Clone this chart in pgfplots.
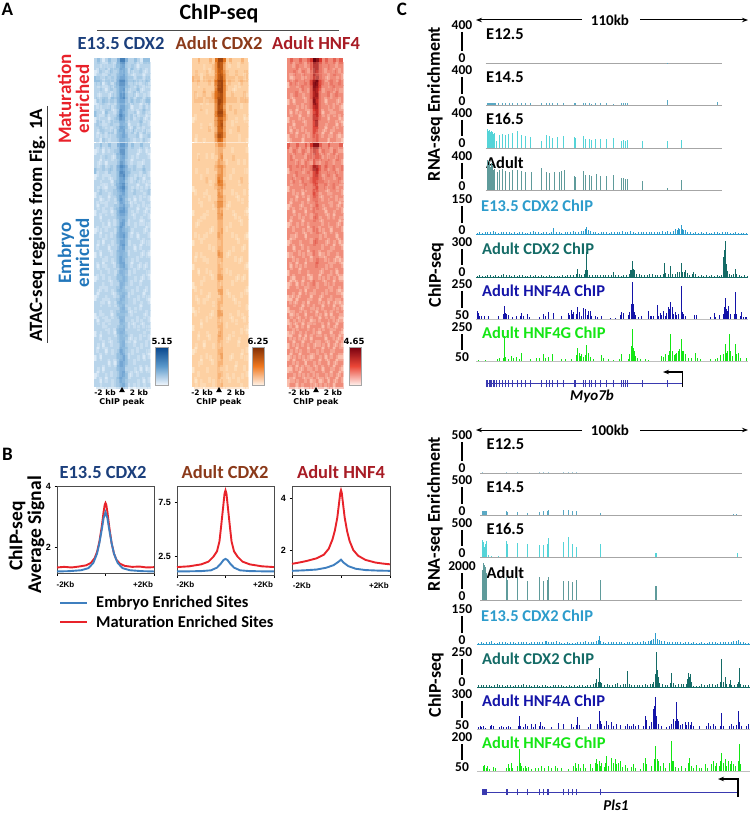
\documentclass[border=0pt]{standalone}
\usepackage{fontspec}
\usepackage{pgfplots}
\usepackage{pgfplotstable}
\pgfplotsset{compat=1.18}
\usetikzlibrary{arrows.meta}
\setmainfont{Carlito}
\newfontfamily\djv{DejaVu Sans}
\newfontfamily\lib{Liberation Sans}
\newcommand{\fs}[1]{\fontsize{#1}{#1}\selectfont\bfseries}
\definecolor{cBlue}{RGB}{27,63,124}
\definecolor{cBrown}{RGB}{139,58,26}
\definecolor{cDRed}{RGB}{168,28,37}
\definecolor{cMat}{RGB}{232,33,42}
\definecolor{cEmb}{RGB}{34,119,187}
\definecolor{lnBlue}{RGB}{63,127,191}
\definecolor{lnRed}{RGB}{232,35,42}
\definecolor{tE}{RGB}{45,156,204}
\definecolor{tC}{RGB}{20,107,102}
\definecolor{tA}{RGB}{20,20,168}
\definecolor{tG}{RGB}{20,230,20}
\definecolor{rnaA}{RGB}{90,169,196}
\definecolor{rnaB}{RGB}{85,212,216}
\definecolor{rnaC}{RGB}{95,155,155}
\definecolor{gn}{RGB}{58,58,176}
\pgfplotsset{
 colormap={hblue}{rgb255(0)=(247,251,255) rgb255(2)=(218,233,246) rgb255(3)=(184,212,234) rgb255(4)=(150,192,224) rgb255(5)=(132,178,218) rgb255(6)=(100,155,205) rgb255(9)=(8,70,140)},
 colormap={horange}{rgb255(0)=(255,245,235) rgb255(2)=(254,228,196) rgb255(3)=(253,208,162) rgb255(4)=(248,180,120) rgb255(6)=(225,115,30) rgb255(9)=(127,45,4)},
 colormap={hred}{rgb255(0)=(255,245,240) rgb255(3)=(250,190,172) rgb255(4)=(240,140,122) rgb255(6)=(218,55,45) rgb255(9)=(103,0,13)},
 trk/.style={hide axis,scale only axis,width=358pt,xmin=0,xmax=1074,ymin=0,ymax=100,clip=false,anchor=south west},
 prof/.style={scale only axis,width=97pt,height=88pt,anchor=north west,xmin=-2,xmax=2,xtick={-2,0,2},xticklabels={},
   tick align=outside,tick pos=left,major tick length=2.5pt,axis line style={black!70,line width=.5pt},
   tick style={black,line width=.5pt},ticklabel style={font=\lib\fontsize{9}{9}\selectfont\bfseries},clip=false}
}
\newcommand{\heat}[7]{%
\begin{axis}[at={(#1pt,-#2pt)},anchor=north west,scale only axis,width=#3pt,height=#4pt,
  xmin=-0.5,xmax=18.5,ymin=-0.5,ymax=#7,y dir=reverse,ticks=none,axis line style={black!45,line width=.6pt},
  colormap name=#5,point meta min=0,point meta max=9,axis on top]
\pgfplotsinvokeforeach{0,...,18}{
 \addplot[scatter,only marks,mark=square*,mark size=1pt,
   mark options={xscale=1.55,yscale=3.2,line width=0pt},
   scatter/use mapped color={draw=mapped color,fill=mapped color},point meta=explicit]
   table[x expr=##1,y expr=\coordindex,meta index=##1] {#6};
}
\pgfplotsinvokeforeach{0,...,18}{
 \addplot[scatter,only marks,mark=square*,mark size=1pt,
   mark options={xscale=1.55,yscale=3.2,line width=0pt,fill opacity=.5,draw opacity=0},
   scatter/use mapped color={draw=mapped color,fill=mapped color},point meta=explicit]
   table[x expr={18-##1+0.5},y expr={mod(\coordindex+3,#7+0.5)+0.5},meta index=##1] {#6};
}
\end{axis}}
\newcommand{\trk}[8]{%
\begin{axis}[trk,at={(395pt,-#1pt)},height=#2pt]
\addplot[#8,line width=.7pt,no markers] coordinates {(#6,0) (#7,0)};
\addplot[ycomb,no markers,color=#3,line width=#4] coordinates {#5};
\end{axis}}
\newcommand{\gene}[6]{%
\begin{axis}[trk,at={(395pt,-#1pt)},height=33.3pt]
\addplot[gn,line width=.5pt,no markers] coordinates {(#2,#4) (#3,#4)};
\addplot[ycomb,no markers,color=gn,line width=.7pt] coordinates {#6};
\end{axis}}
\newcommand{\scl}[4]{%
\node[font=\fs{13.5}] at (462pt,-#1pt) {#3};
\node[font=\fs{13.5}] at (462pt,-#2pt) {#4};
\draw[line width=1.1pt] (462pt,{-(#1+7)*1pt}) -- (462pt,{-(#2-7)*1pt});}

\pgfplotstableread[header=false]{
3 4 3 2 3 4 3 3 5 7 7 5 3 3 4 3 2 4 4
3 3 2 3 4 3 3 4 4 6 6 4 3 4 3 2 3 3 3
2 3 3 3 2 4 3 3 4 5 6 4 3 2 3 3 3 2 3
4 4 3 4 4 3 4 3 5 6 6 5 4 4 3 4 4 3 4
3 2 3 2 3 3 2 4 4 5 5 4 3 3 2 3 3 3 2
3 3 4 3 2 3 3 3 4 5 6 3 2 3 3 4 2 3 3
3 2 3 3 3 2 4 3 4 6 7 4 3 3 2 3 3 2 3
2 3 3 4 3 3 3 2 4 5 5 3 3 4 3 3 2 3 4
3 3 2 3 3 4 2 3 4 6 6 4 3 2 3 3 3 4 3
4 3 3 2 4 3 3 3 5 6 5 4 3 3 4 2 3 3 2
2 3 4 3 3 2 3 4 4 5 5 3 3 3 3 3 4 2 3
3 3 3 3 2 3 3 3 3 5 4 4 2 3 3 2 3 3 3
3 2 3 4 3 3 4 2 4 4 5 3 3 4 2 3 3 4 2
3 3 2 3 3 2 3 3 4 5 5 4 3 3 3 3 2 3 3
}\tBlueA
\pgfplotstableread[header=false]{
3 3 4 3 3 4 3 3 5 6 6 5 3 4 3 3 4 3 3
2 3 3 2 3 3 3 4 5 7 7 4 3 3 3 2 3 3 2
3 3 2 3 4 3 2 3 4 6 6 4 3 2 3 3 3 3 3
3 2 3 3 2 3 3 3 5 7 6 5 3 3 3 2 2 3 3
4 3 3 3 3 4 3 3 4 6 5 4 4 3 3 3 3 4 3
2 3 3 2 3 2 3 3 4 5 6 4 3 3 2 3 3 2 3
3 3 2 3 3 3 2 4 4 5 5 3 3 3 3 2 3 3 2
3 2 3 3 2 3 3 3 5 6 6 4 3 2 3 3 2 3 3
2 3 3 3 3 2 3 3 4 5 5 4 3 3 3 3 3 2 3
3 3 2 2 3 3 3 2 4 6 5 3 2 3 2 3 3 3 3
3 2 3 3 3 3 3 4 4 5 6 4 3 3 3 2 3 3 2
2 3 3 3 2 3 2 3 5 6 6 5 3 2 3 3 3 2 3
3 3 2 3 3 3 3 3 4 5 5 4 3 3 3 3 2 3 3
3 3 3 2 3 2 3 3 4 6 5 3 3 3 2 3 3 3 2
2 3 2 3 3 3 3 2 4 5 5 4 3 2 3 3 3 2 3
3 3 3 3 2 3 3 3 4 5 6 4 3 3 3 2 3 3 3
3 2 3 2 3 3 2 3 4 6 6 4 2 3 3 3 2 3 2
3 3 3 3 3 2 3 3 5 5 5 3 3 3 2 3 3 3 3
2 3 2 3 3 3 3 3 4 5 4 4 3 3 3 3 2 3 2
3 3 3 2 3 3 2 3 4 5 5 3 3 2 3 3 3 3 3
3 2 3 3 2 3 3 3 3 4 5 4 3 3 3 2 3 2 3
3 3 2 3 3 3 3 2 4 5 4 3 2 3 3 3 3 3 2
2 3 3 3 3 2 3 3 4 4 5 4 3 3 2 3 2 3 3
3 3 3 2 3 3 3 3 3 5 4 3 3 3 3 3 3 3 3
3 2 3 3 3 3 2 3 4 4 4 4 3 2 3 3 3 2 3
2 3 3 3 2 3 3 3 3 5 5 3 3 3 3 2 3 3 2
3 3 2 3 3 2 3 2 4 4 4 3 3 3 3 3 2 3 3
3 3 3 3 3 3 3 3 3 5 5 4 2 3 2 3 3 3 3
2 3 3 2 3 3 2 3 4 4 4 3 3 3 3 3 3 2 3
3 2 3 3 3 2 3 3 3 5 4 3 3 2 3 3 2 3 3
3 3 3 3 2 3 3 3 4 4 5 3 3 3 3 2 3 3 2
2 3 2 3 3 3 3 2 4 5 4 4 3 3 3 3 3 2 3
3 3 3 3 3 2 3 3 4 5 5 3 2 3 2 3 3 3 3
3 2 3 2 3 3 3 3 3 5 5 4 3 3 3 3 2 3 3
3 3 3 3 2 3 2 3 4 6 5 3 3 2 3 3 3 3 2
2 3 2 3 3 3 3 3 4 5 6 4 3 3 3 2 3 2 3
3 3 3 3 3 2 3 2 5 6 5 4 3 3 3 3 3 3 3
3 2 3 2 3 3 3 3 4 5 5 3 3 3 2 3 2 3 2
2 3 3 3 2 3 3 3 4 5 4 4 2 3 3 3 3 3 3
3 3 2 3 3 3 2 3 3 4 4 3 3 3 3 2 3 2 3
}\tBlueB
\pgfplotstableread[header=false]{
3 3 4 3 3 3 4 3 6 8 8 6 3 4 3 3 3 4 3
3 3 3 3 2 3 3 4 6 8 8 5 3 3 3 3 3 3 3
3 4 3 3 3 4 3 3 6 8 7 6 4 3 3 4 3 3 4
4 4 4 3 4 4 4 4 6 8 8 6 4 4 4 3 4 4 4
3 3 2 3 3 3 3 3 5 7 8 5 3 3 3 3 2 3 3
3 3 3 3 4 3 3 3 6 8 8 5 3 3 2 3 3 3 3
3 2 3 3 3 3 3 4 6 7 7 5 3 3 3 3 3 3 2
3 3 3 3 3 2 3 3 5 8 7 5 3 3 3 3 3 3 3
3 3 3 4 3 3 3 3 5 7 7 4 3 4 3 3 3 3 3
3 3 3 3 3 3 3 3 6 8 8 5 3 3 3 3 3 3 3
2 3 3 3 3 3 3 3 4 6 6 4 3 3 3 2 3 3 2
3 3 3 2 3 3 2 3 4 6 7 4 3 3 3 3 3 3 3
3 3 3 3 3 3 3 3 4 6 6 4 3 2 3 3 3 3 3
3 2 3 3 3 3 3 3 5 7 6 4 3 3 3 3 2 3 3
}\tOrA
\pgfplotstableread[header=false]{
3 3 3 3 3 3 3 3 4 5 5 4 3 3 3 3 3 3 3
3 3 3 3 3 3 3 3 4 5 5 3 3 3 3 3 3 3 3
3 3 4 3 3 3 3 3 3 5 6 3 3 3 4 3 3 3 3
3 3 3 3 3 3 3 3 4 5 5 4 3 3 3 3 3 3 3
3 2 3 3 3 2 3 3 3 4 5 3 3 3 2 3 3 3 2
3 3 3 2 3 3 3 3 4 5 5 3 3 2 3 3 3 3 3
3 3 3 3 3 3 2 3 4 6 6 4 3 3 3 3 2 3 3
2 3 3 3 3 3 3 3 3 4 5 3 3 3 3 3 3 3 3
3 3 3 3 2 3 3 3 3 5 5 3 3 3 3 2 3 3 3
3 3 2 3 3 3 3 3 3 4 4 3 3 3 3 3 3 2 3
3 3 3 3 3 3 3 2 3 4 4 3 2 3 3 3 3 3 3
2 3 3 3 3 2 3 3 3 4 5 3 3 3 2 3 3 3 2
3 3 3 2 3 3 3 3 3 4 4 3 3 3 3 3 2 3 3
3 2 3 3 3 3 3 3 3 4 4 3 3 2 3 3 3 3 3
3 3 3 3 3 3 2 3 3 4 5 3 3 3 3 3 3 3 3
3 3 2 3 2 3 3 3 3 4 4 3 3 3 3 2 3 3 2
2 3 3 3 3 3 3 3 3 3 4 3 3 3 3 3 3 3 3
3 3 3 3 3 3 3 2 3 4 4 3 3 3 2 3 3 2 3
3 2 3 2 3 3 3 3 3 5 5 3 2 3 3 3 3 3 3
3 3 3 3 3 2 3 3 3 3 4 3 3 3 3 3 2 3 3
2 3 3 3 3 3 3 3 3 4 4 3 3 3 3 3 3 3 2
3 3 2 3 3 3 2 3 3 4 3 3 3 2 3 3 3 3 3
3 3 3 3 2 3 3 3 3 4 4 3 3 3 3 2 3 2 3
2 3 3 3 3 3 3 3 3 3 4 3 3 3 3 3 3 3 3
3 3 3 2 3 3 3 3 3 5 5 3 2 3 3 3 3 3 2
3 2 3 3 3 2 3 3 3 3 4 3 3 3 2 3 3 3 3
3 3 3 3 3 3 3 2 3 4 4 3 3 3 3 3 2 3 3
2 3 2 3 3 3 3 3 3 4 3 3 3 3 3 3 3 3 3
3 3 3 3 3 3 2 3 3 4 4 3 3 2 3 3 3 2 3
3 3 3 2 3 3 3 3 3 3 4 3 3 3 3 2 3 3 3
2 3 3 3 3 3 3 3 3 4 4 3 3 3 3 3 3 3 2
3 3 2 3 3 2 3 3 3 5 4 3 3 3 2 3 3 3 3
3 3 3 3 3 3 3 3 3 4 4 3 2 3 3 3 2 3 3
3 2 3 3 2 3 3 2 3 3 4 3 3 3 3 3 3 3 3
2 3 3 3 3 3 3 3 3 4 4 3 3 3 3 3 3 2 3
3 3 3 2 3 3 2 3 3 3 4 3 3 2 3 3 3 3 2
3 3 2 3 3 3 3 3 3 4 4 3 3 3 3 2 3 3 3
2 3 3 3 3 2 3 3 3 3 3 3 3 3 3 3 3 3 3
3 3 3 3 3 3 3 3 3 4 3 3 2 3 2 3 3 2 3
3 2 3 2 3 3 3 2 3 3 4 3 3 3 3 3 3 3 3
}\tOrB
\pgfplotstableread[header=false]{
4 5 4 4 5 4 4 5 6 9 8 6 4 5 4 4 5 4 5
4 4 4 5 4 4 4 4 6 8 8 5 4 4 5 4 4 4 4
4 4 5 4 4 5 4 4 5 8 7 5 4 4 4 4 5 4 4
4 3 4 4 4 4 3 4 5 7 8 5 4 3 4 4 4 3 4
3 4 4 3 4 4 4 4 5 8 7 5 4 4 3 4 4 4 4
4 4 4 4 3 4 4 3 5 7 6 4 3 4 4 4 3 4 3
4 3 4 4 4 3 4 4 5 7 7 4 4 4 4 3 4 4 4
3 4 3 4 4 4 4 4 4 8 6 4 4 3 4 4 4 3 4
4 4 4 3 4 4 3 4 4 6 6 4 4 4 3 4 4 4 3
4 3 4 4 3 4 4 3 4 5 6 4 3 4 4 4 3 4 4
3 4 4 4 4 3 4 4 4 5 5 4 4 4 3 4 4 4 3
4 4 3 4 4 4 4 4 4 5 5 4 4 3 4 4 4 3 4
4 3 4 3 4 4 3 4 4 5 4 4 3 4 4 3 4 4 4
3 4 4 4 4 3 4 4 4 4 5 4 4 4 3 4 4 3 3
}\tRedA
\pgfplotstableread[header=false]{
5 4 4 5 4 4 5 4 6 8 8 5 4 4 5 4 4 4 5
4 4 5 4 4 5 4 4 5 7 6 4 5 4 4 4 5 4 4
4 5 4 4 4 4 4 5 5 6 6 5 4 4 5 4 4 5 4
4 4 4 5 4 4 5 4 4 6 5 4 4 5 4 4 4 4 4
3 4 4 4 4 3 4 4 4 5 6 4 4 4 3 4 4 3 4
4 4 3 4 4 4 4 3 4 5 5 4 3 4 4 4 3 4 4
4 3 4 4 3 4 4 4 4 5 4 4 4 4 3 4 4 4 3
3 4 4 4 4 4 3 4 4 4 5 4 4 3 4 4 4 3 4
4 4 4 3 4 3 4 4 4 5 4 3 4 4 4 3 4 4 4
4 3 4 4 4 4 4 3 4 4 4 4 4 4 3 4 4 4 3
3 4 4 4 3 4 4 4 3 4 5 4 3 4 4 4 4 3 4
4 4 3 4 4 4 3 4 4 4 4 4 4 3 4 4 3 4 4
4 3 4 4 4 3 4 4 4 5 4 3 4 4 4 4 4 4 3
3 4 4 3 4 4 4 3 4 4 4 4 4 4 3 4 4 3 4
4 4 4 4 4 3 4 4 3 4 5 4 3 4 4 3 4 4 4
4 3 3 4 4 4 3 4 4 4 4 3 4 4 4 4 4 3 4
3 4 4 4 3 4 4 4 4 5 4 4 4 3 4 4 3 4 3
4 4 3 4 4 4 4 3 4 4 4 4 4 4 4 3 4 4 4
3 3 4 4 4 3 4 4 3 4 4 3 3 4 4 4 4 3 4
4 4 4 3 4 4 3 4 4 4 5 4 4 4 3 4 3 4 3
4 3 4 4 3 4 4 4 4 4 4 4 4 3 4 4 4 4 4
3 4 4 4 4 4 4 3 4 4 4 3 4 4 4 3 4 3 4
4 3 3 4 4 3 4 4 3 4 4 4 3 4 4 4 3 4 3
3 4 4 3 4 4 4 3 4 4 3 4 4 4 3 4 4 4 4
4 4 4 4 3 4 3 4 4 3 4 4 4 3 4 4 4 3 3
3 3 4 3 4 4 4 4 3 4 4 3 4 4 4 3 4 4 4
4 4 3 4 4 3 4 3 4 4 4 4 3 4 3 4 3 4 3
3 4 4 4 3 4 4 4 3 4 3 4 4 4 4 4 4 3 4
4 3 4 3 4 4 3 4 4 4 4 3 4 3 4 3 4 4 3
3 4 3 4 4 3 4 4 3 3 4 4 4 4 3 4 4 3 4
4 4 4 3 4 4 4 3 4 4 4 4 3 4 4 4 3 4 4
3 3 4 4 3 4 3 4 4 4 3 3 4 4 4 3 4 4 3
4 4 3 4 4 3 4 4 3 4 4 4 4 3 4 4 4 3 4
3 4 4 3 4 4 4 3 4 3 4 4 3 4 3 4 3 4 3
4 3 4 4 3 4 4 4 4 4 3 4 4 4 4 3 4 4 4
3 4 3 4 4 3 4 3 3 4 4 3 4 3 4 4 4 3 3
4 4 4 3 4 4 3 4 4 3 4 4 4 4 3 4 3 4 4
3 3 4 4 3 4 4 4 3 4 4 4 3 4 4 3 4 4 3
4 4 3 4 4 3 4 3 4 4 3 4 4 3 4 4 4 3 4
3 4 4 3 4 4 4 4 3 3 4 3 4 4 3 4 3 4 4
}\tRedB

\begin{document}
\begin{tikzpicture}[x=1pt,y=1pt]
\path[use as bounding box] (0pt,0pt) rectangle (753pt,-813pt);
% panel letters
\node[font=\fs{19}] at (7.5pt,-9pt) {A};
\node[font=\fs{19}] at (7.5pt,-454pt) {B};
\node[font=\fs{19}] at (402pt,-9pt) {C};
% panel A heads
\node[font=\fs{22}] at (219pt,-14pt) {ChIP-seq};
\draw[black!70,line width=.8pt] (97pt,-30pt) -- (339pt,-30pt);
\node[font=\fs{18.5},text=cBlue] at (121pt,-43pt) {E13.5 CDX2};
\node[font=\fs{18.5},text=cBrown] at (219pt,-43pt) {Adult CDX2};
\node[font=\fs{18.5},text=cDRed] at (316pt,-43pt) {Adult HNF4};
\node[font=\fs{19},text=cMat,rotate=90,align=center,inner sep=0pt] at (73.5pt,-99pt) {Maturation\\[-1pt]enriched};
\node[font=\fs{19},text=cEmb,rotate=90,align=center,inner sep=0pt] at (73.5pt,-253pt) {Embryo\\[-1pt]enriched};
\node[font=\fs{18.8},rotate=90,inner sep=0pt] at (37pt,-225pt) {ATAC-seq regions from Fig. 1A};
\draw[black!75,line width=.8pt] (47pt,-106pt) -- (47pt,-343pt);
% heatmaps
\heat{94.5}{59}{54.5}{82}{hblue}{\tBlueA}{13.5}
\heat{94.5}{144}{54.5}{242}{hblue}{\tBlueB}{39.5}
\heat{192.5}{59}{54.5}{82}{horange}{\tOrA}{13.5}
\heat{192.5}{144}{54.5}{242}{horange}{\tOrB}{39.5}
\heat{288}{59}{54.5}{82}{hred}{\tRedA}{13.5}
\heat{288}{144}{54.5}{242}{hred}{\tRedB}{39.5}
% colour bars
\shade[top color={rgb,255:red,8;green,70;blue,140},bottom color={rgb,255:red,240;green,246;blue,252},middle color={rgb,255:red,90;green,152;blue,203}] (155pt,-347pt) rectangle (168pt,-385pt);
\draw[black!35,line width=.5pt] (155pt,-347pt) rectangle (168pt,-385pt);
\shade[top color={rgb,255:red,127;green,45;blue,4},bottom color={rgb,255:red,255;green,242;blue,230},middle color={rgb,255:red,240;green,120;blue,31}] (252pt,-347pt) rectangle (264.5pt,-385pt);
\draw[black!35,line width=.5pt] (252pt,-347pt) rectangle (264.5pt,-385pt);
\shade[top color={rgb,255:red,120;green,0;blue,15},bottom color={rgb,255:red,255;green,240;blue,235},middle color={rgb,255:red,235;green,70;blue,55}] (349pt,-347pt) rectangle (361pt,-385pt);
\draw[black!35,line width=.5pt] (349pt,-347pt) rectangle (361pt,-385pt);
\node[font=\djv\fs{8.5}] at (162pt,-341pt) {5.15};
\node[font=\djv\fs{8.5}] at (258pt,-341pt) {6.25};
\node[font=\djv\fs{8.5}] at (354pt,-341pt) {4.65};
% heatmap x labels
\foreach \cx/\l/\r in {122/105/139,219/202/236,316/299/333}{
 \node[font=\djv\fs{7.5}] at (\l pt,-392.5pt) {-2 kb};
 \node[font=\djv\fs{7.5}] at (\r pt,-392.5pt) {2 kb};
 \node[font=\djv\fs{8}] at (\cx pt,-402pt) {ChIP peak};
 \fill ({(\cx-2.8)*1pt},-392pt) -- ({(\cx+2.8)*1pt},-392pt) -- (\cx pt,-387pt) -- cycle;
}
% panel B
\node[font=\fs{19.5},rotate=90] at (17pt,-536pt) {ChIP-seq};
\node[font=\fs{19.5},rotate=90] at (36pt,-535pt) {Average Signal};
\node[font=\fs{18.5},text=cBlue] at (103pt,-472pt) {E13.5 CDX2};
\node[font=\fs{18.5},text=cBrown] at (225pt,-472pt) {Adult CDX2};
\node[font=\fs{18.5},text=cDRed] at (341pt,-472pt) {Adult HNF4};
\begin{axis}[prof,at={(57pt,-486pt)},height=87pt,ymin=1.17,ymax=4,ytick={2,4},yticklabels={2,4}]
\addplot[lnRed,line width=1.9pt,no markers] coordinates {(-2,1.35)(-1.7,1.37)(-1.4,1.35)(-1.1,1.38)(-0.8,1.42)(-0.6,1.5)(-0.45,1.65)(-0.35,1.85)(-0.25,2.2)(-0.15,2.7)(-0.08,3.15)(-0.03,3.4)(0,3.45)(0.03,3.4)(0.08,3.15)(0.15,2.7)(0.25,2.15)(0.35,1.8)(0.45,1.6)(0.6,1.47)(0.8,1.4)(1.1,1.37)(1.4,1.38)(1.7,1.35)(2,1.36)};
\addplot[lnBlue,line width=1.9pt,no markers] coordinates {(-2,1.22)(-1.5,1.23)(-1,1.26)(-0.7,1.33)(-0.5,1.5)(-0.35,1.8)(-0.25,2.15)(-0.15,2.6)(-0.08,2.95)(0,3.15)(0.08,2.95)(0.15,2.6)(0.25,2.15)(0.35,1.8)(0.5,1.5)(0.7,1.33)(1,1.26)(1.5,1.23)(2,1.22)};
\node[font=\lib\fs{8}] at (axis cs:-1.65,0.78) {-2Kb};
\node[font=\lib\fs{8}] at (axis cs:1.55,0.78) {+2Kb};
\end{axis}
\begin{axis}[prof,at={(177pt,-486pt)},height=89pt,ymin=0.82,ymax=9,ytick={2.5,7.5},yticklabels={2.5,7.5}]
\addplot[lnRed,line width=1.9pt,no markers] coordinates {(-2,1.55)(-1.5,1.62)(-1,1.8)(-0.7,2.05)(-0.5,2.5)(-0.35,3.0)(-0.25,3.9)(-0.18,5.3)(-0.1,7)(-0.04,8.3)(0,8.6)(0.04,8.3)(0.1,7)(0.18,5.3)(0.25,3.9)(0.35,3.0)(0.5,2.5)(0.7,2.05)(1,1.8)(1.5,1.62)(2,1.55)};
\addplot[lnBlue,line width=1.9pt,no markers] coordinates {(-2,1.15)(-1.5,1.16)(-1,1.18)(-0.6,1.25)(-0.35,1.5)(-0.2,1.85)(-0.08,2.2)(0,2.3)(0.08,2.2)(0.2,1.85)(0.35,1.5)(0.6,1.25)(1,1.18)(1.5,1.16)(2,1.15)};
\node[font=\lib\fs{8}] at (axis cs:-1.65,-0.1) {-2Kb};
\node[font=\lib\fs{8}] at (axis cs:1.55,-0.1) {+2Kb};
\end{axis}
\begin{axis}[prof,at={(292pt,-486pt)},height=89pt,width=98pt,ymin=1.04,ymax=4.46,ytick={2,4},yticklabels={2,4}]
\addplot[lnRed,line width=1.9pt,no markers] coordinates {(-2,1.47)(-1.7,1.52)(-1.4,1.58)(-1,1.68)(-0.7,1.82)(-0.5,2.05)(-0.35,2.4)(-0.25,2.75)(-0.15,3.25)(-0.08,3.8)(-0.03,4.2)(0,4.3)(0.03,4.2)(0.08,3.8)(0.15,3.25)(0.25,2.72)(0.35,2.35)(0.5,2.0)(0.7,1.78)(1,1.62)(1.4,1.52)(1.7,1.48)(2,1.45)};
\addplot[lnBlue,line width=1.9pt,no markers] coordinates {(-2,1.2)(-1.5,1.22)(-1,1.25)(-0.6,1.32)(-0.3,1.42)(-0.1,1.55)(0,1.63)(0.1,1.52)(0.3,1.38)(0.6,1.28)(1,1.23)(1.5,1.21)(2,1.2)};
\node[font=\lib\fs{8}] at (axis cs:-1.6,0.65) {-2Kb};
\node[font=\lib\fs{8}] at (axis cs:1.55,0.65) {+2Kb};
\end{axis}
\draw[lnBlue,line width=2pt] (60pt,-603pt) -- (87pt,-603pt);
\draw[lnRed,line width=2pt] (60pt,-622pt) -- (87pt,-622pt);
\node[font=\fs{16.5},anchor=west,inner sep=0pt] at (96pt,-603pt) {Embryo Enriched Sites};
\node[font=\fs{16.5},anchor=west,inner sep=0pt] at (96pt,-622pt) {Maturation Enriched Sites};
% panel C top
\draw[-{Stealth[length=6pt]},line width=1pt] (582pt,-20pt) -- (476pt,-20pt);
\draw[-{Stealth[length=6pt]},line width=1pt] (640pt,-20pt) -- (748pt,-20pt);
\node[font=\fs{15}] at (610pt,-20pt) {110kb};
\node[font=\fs{18},rotate=90] at (435pt,-104pt) {RNA-seq Enrichment};
\node[font=\fs{18},rotate=90] at (436pt,-275pt) {ChIP-seq};
\scl{25}{58}{400}{0}\scl{70}{101}{400}{0}\scl{113}{143}{400}{0}\scl{156}{186}{400}{0}
\scl{199}{230}{150}{0}\scl{242}{272}{300}{0}\scl{284}{315}{250}{50}\scl{327}{357}{250}{50}
\foreach \y/\t in {34/E12.5,77/E14.5,119/E16.5,163/Adult}
  \node[font=\fs{16.5},anchor=west,inner sep=0pt] at (486pt,-\y pt) {\t};
\node[font=\fs{16.5},anchor=west,inner sep=0pt,text=tE] at (481pt,-206pt) {E13.5 CDX2 ChIP};
\node[font=\fs{16.5},anchor=west,inner sep=0pt,text=tC] at (482pt,-249pt) {Adult CDX2 ChIP};
\node[font=\fs{16.5},anchor=west,inner sep=0pt,text=tA] at (482pt,-291pt) {Adult HNF4A ChIP};
\node[font=\fs{16.5},anchor=west,inner sep=0pt,text=tG] at (482pt,-333pt) {Adult HNF4G ChIP};
\trk{63}{33.3}{rnaA}{.5pt}{(816,1)}{272}{980}{black!35}
\trk{105}{33.3}{rnaA}{.6pt}{(276,6)(279,7)(282,6)(285,7)(288,6)(291,6)(294,7)(297,6)(300,6)(310,5)(322,6)(331,5)(342,5)(352,5)(367,6)(380,5)(392,5)(405,5)(438,5)(455,6)(462,6)(472,5)(488,5)(505,5)(537,5)(540,5)(565,6)(572,5)(582,5)(590,4)(600,5)(617,5)(634,5)(656,4)(680,5)(686,5)(692,5)(697,5)(817,15)(968,8)}{272}{980}{black!35}
\trk{148}{33.3}{rnaB}{.7pt}{(278,58)(281,50)(283,55)(286,48)(288,50)(291,45)(293,48)(296,42)(298,45)(303,20)(312,38)(322,42)(330,40)(340,42)(352,45)(367,52)(380,40)(392,36)(405,33)(438,22)(455,38)(462,36)(472,30)(488,32)(505,35)(537,33)(540,30)(565,35)(572,28)(582,28)(590,24)(600,28)(617,26)(634,28)(656,30)(680,22)(686,25)(692,22)(697,24)(742,22)(817,22)(859,24)}{272}{980}{black!35}
\trk{190}{33.3}{rnaC}{.55pt}{(278,90)(281,75)(283,88)(286,70)(288,80)(291,65)(293,75)(296,60)(298,62)(306,55)(312,60)(322,62)(331,58)(342,55)(352,60)(367,60)(380,58)(392,55)(408,55)(438,65)(455,55)(462,50)(478,55)(492,55)(500,58)(507,60)(537,42)(540,40)(565,58)(572,45)(582,45)(590,42)(603,48)(617,42)(634,42)(656,45)(680,35)(686,35)(692,32)(697,33)(742,28)(817,6)(859,30)}{272}{980}{black!35}
\trk{234}{33.3}{tE}{.6pt}{(246,3)(254,5)(262,4)(270,6)(278,7)(286,5)(294,8)(302,5)(310,3)(318,6)(326,5)(334,7)(342,5)(350,3)(358,5)(366,4)(374,6)(382,5)(390,3)(398,4)(406,7)(414,8)(422,6)(430,5)(438,4)(446,6)(454,5)(462,4)(470,7)(476,18)(484,6)(492,5)(500,4)(510,7)(518,6)(526,6)(534,8)(542,5)(550,7)(558,9)(566,10)(571,14)(575,22)(579,12)(586,8)(594,6)(602,5)(610,4)(618,7)(626,5)(634,6)(642,4)(650,6)(658,5)(666,7)(674,6)(682,9)(690,7)(698,5)(706,9)(714,6)(722,4)(730,6)(738,7)(746,5)(754,6)(762,7)(770,5)(778,6)(786,7)(794,5)(802,8)(810,7)(818,8)(826,6)(834,10)(840,15)(846,12)(850,18)(854,14)(858,27)(862,16)(866,12)(870,12)(878,7)(886,5)(894,4)(902,5)(910,4)(918,6)(926,3)(934,5)(942,3)(950,4)(958,6)(966,5)(974,3)(982,5)(990,6)(998,6)(1006,4)(1014,3)(1022,5)(1030,4)(1038,3)(1046,4)(1054,3)}{243}{1060}{tE}
\trk{277}{33.3}{tC}{.6pt}{(246,4)(254,5)(262,4)(270,3)(278,5)(286,6)(294,4)(302,5)(310,4)(318,5)(326,8)(334,6)(342,5)(350,4)(358,5)(366,3)(374,7)(382,6)(390,4)(398,3)(406,5)(414,4)(422,6)(430,3)(438,5)(446,4)(454,3)(462,5)(470,4)(478,3)(486,4)(494,4)(502,5)(510,4)(518,5)(526,6)(534,5)(543,10)(548,24)(552,10)(560,6)(568,8)(572,22)(575,75)(578,20)(584,6)(592,5)(600,7)(608,6)(616,5)(624,6)(632,5)(640,7)(648,6)(655,15)(662,6)(670,5)(678,4)(686,5)(694,6)(702,8)(705,20)(709,22)(712,47)(715,25)(718,22)(724,8)(732,10)(740,7)(748,6)(756,7)(764,8)(772,9)(780,7)(788,6)(796,7)(804,10)(808,42)(812,12)(820,8)(827,33)(832,10)(840,10)(846,15)(852,15)(858,42)(862,16)(868,16)(872,20)(876,12)(884,7)(892,8)(896,15)(902,8)(910,4)(918,5)(926,4)(934,5)(942,4)(950,5)(958,4)(966,5)(974,4)(980,6)(984,15)(986,60)(988,80)(990,108)(992,70)(994,40)(997,18)(1002,8)(1010,6)(1016,8)(1020,25)(1024,8)(1032,5)(1040,4)(1048,5)(1056,4)}{243}{1060}{tC}
\trk{319}{33.3}{tA}{.65pt}{(248,25)(251,18)(254,8)(258,10)(268,8)(280,8)(310,10)(325,15)(328,38)(331,18)(335,15)(340,12)(352,5)(365,10)(376,8)(380,18)(384,10)(398,15)(402,6)(432,5)(445,14)(450,8)(460,20)(474,18)(500,10)(520,18)(524,12)(528,28)(532,15)(535,22)(544,15)(548,35)(552,22)(558,8)(566,32)(570,15)(572,30)(576,12)(580,25)(585,25)(590,8)(600,10)(606,6)(620,8)(645,3)(660,3)(676,12)(680,20)(686,18)(700,12)(704,22)(708,45)(712,112)(715,45)(718,20)(722,12)(730,6)(740,10)(760,25)(765,10)(770,10)(775,8)(787,42)(791,10)(795,18)(800,12)(805,25)(810,10)(815,18)(820,35)(824,30)(827,52)(832,35)(836,15)(840,22)(845,12)(850,15)(858,100)(862,20)(865,15)(872,8)(898,12)(903,12)(945,5)(958,18)(962,6)(972,12)(984,15)(987,35)(990,62)(994,30)(998,25)(1001,40)(1005,15)(1017,15)(1020,82)(1024,15)(1036,10)(1040,20)(1044,6)(1050,5)(1055,5)}{243}{1060}{black!25}
\trk{361}{33.3}{tG}{.85pt}{(250,3)(270,3)(308,6)(312,8)(325,10)(328,75)(331,12)(340,6)(350,15)(354,8)(365,12)(372,6)(378,25)(405,5)(423,10)(432,8)(445,20)(452,10)(460,12)(472,20)(500,5)(512,6)(530,5)(544,18)(548,40)(552,25)(556,15)(560,20)(565,12)(570,18)(575,48)(580,25)(585,12)(595,6)(618,18)(624,8)(640,6)(655,4)(672,6)(680,20)(700,6)(704,20)(708,45)(712,97)(715,40)(718,30)(722,15)(726,10)(735,6)(750,5)(760,4)(800,15)(806,12)(812,22)(820,18)(824,30)(827,80)(831,30)(838,18)(842,20)(845,25)(850,30)(854,35)(858,67)(862,30)(865,30)(872,20)(880,10)(890,8)(900,25)(906,8)(916,6)(945,5)(960,6)(968,10)(975,18)(985,20)(990,50)(994,25)(998,30)(1002,80)(1006,30)(1012,15)(1020,50)(1024,20)(1030,25)(1036,8)(1055,10)}{243}{1060}{black!25}
\gene{387}{272}{860}{11}{}{(274,21)(278,21)(282,21)(286,21)(290,21)(294,21)(298,21)(303,21)(312,21)(322,21)(330,21)(340,21)(352,21)(367,21)(380,21)(392,21)(405,21)(438,21)(455,21)(462,21)(472,21)(488,21)(505,21)(537,21)(540,21)(565,21)(572,21)(582,21)(590,21)(600,21)(617,21)(634,21)(656,21)(680,21)(686,21)(692,21)(697,21)(742,21)(817,21)}
\draw[-{Stealth[length=6pt]},line width=1.6pt] (682.3pt,-387pt) -- (682.3pt,-372pt) -- (663pt,-372pt);
\node[font=\fs{15}\itshape] at (592pt,-396pt) {Myo7b};
% panel C bottom
\draw[-{Stealth[length=6pt]},line width=1pt] (582pt,-430pt) -- (476pt,-430pt);
\draw[-{Stealth[length=6pt]},line width=1pt] (640pt,-430pt) -- (748pt,-430pt);
\node[font=\fs{15}] at (610pt,-430pt) {100kb};
\node[font=\fs{18},rotate=90] at (435pt,-514pt) {RNA-seq Enrichment};
\node[font=\fs{18},rotate=90] at (436pt,-685pt) {ChIP-seq};
\scl{435}{468}{500}{0}\scl{480}{511}{500}{0}\scl{523}{553}{500}{0}\scl{566}{596}{2000}{0}
\scl{609}{640}{150}{0}\scl{652}{682}{250}{0}\scl{694}{725}{300}{50}\scl{737}{767}{200}{50}
\foreach \y/\t in {444/E12.5,487/E14.5,529/E16.5,573/Adult}
  \node[font=\fs{16.5},anchor=west,inner sep=0pt] at (486.5pt,-\y pt) {\t};
\node[font=\fs{16.5},anchor=west,inner sep=0pt,text=tE] at (481pt,-616pt) {E13.5 CDX2 ChIP};
\node[font=\fs{16.5},anchor=west,inner sep=0pt,text=tC] at (482pt,-659pt) {Adult CDX2 ChIP};
\node[font=\fs{16.5},anchor=west,inner sep=0pt,text=tA] at (482pt,-701pt) {Adult HNF4A ChIP};
\node[font=\fs{16.5},anchor=west,inner sep=0pt,text=tG] at (482pt,-743pt) {Adult HNF4G ChIP};
\trk{473}{33.3}{rnaA!60}{.5pt}{(262,2)(333,3)(368,3)(433,3)(445,4)(460,4)(506,4)(520,4)(532,2)(545,2)}{255}{1042}{black!35}
\trk{515}{33.3}{rnaA}{.7pt}{(262,12)(264,12)(266,12)(268,12)(270,12)(272,12)(274,12)(333,12)(337,10)(368,10)(397,6)(433,10)(445,12)(458,12)(460,16)(506,15)(520,15)(532,12)(545,12)(617,6)(1015,3)(1025,3)}{255}{1042}{black!35}
\trk{557}{33.3}{rnaB}{.7pt}{(262,50)(264,45)(266,40)(268,30)(270,35)(272,40)(274,48)(280,5)(290,3)(310,2)(333,48)(337,40)(368,42)(397,40)(433,36)(445,35)(458,40)(460,58)(506,45)(520,60)(532,38)(545,30)(617,40)(782,12)(784,12)(1027,12)}{255}{1042}{black!35}
\trk{600}{33.3}{rnaC}{.6pt}{(262,90)(264,100)(266,110)(268,105)(270,100)(272,95)(274,80)(333,70)(337,60)(368,70)(397,58)(433,70)(445,58)(458,60)(460,68)(506,58)(520,58)(532,55)(545,60)(617,60)(782,42)(784,42)}{255}{1042}{black!35}
\trk{644}{33.3}{tE}{.6pt}{(250,4)(258,5)(266,4)(274,7)(282,5)(290,8)(298,4)(306,3)(314,5)(322,7)(330,5)(338,4)(346,6)(354,5)(362,3)(370,6)(378,5)(386,7)(394,5)(402,4)(410,6)(418,5)(426,5)(434,7)(442,6)(450,8)(455,10)(460,7)(468,5)(476,6)(484,9)(492,7)(500,4)(508,3)(516,5)(524,4)(532,3)(540,4)(548,5)(556,6)(564,7)(572,8)(580,5)(588,6)(596,7)(604,8)(609,12)(613,25)(617,10)(624,5)(632,4)(640,5)(648,7)(656,5)(664,6)(672,7)(680,5)(688,4)(696,5)(704,6)(712,5)(720,4)(728,7)(736,6)(744,8)(752,7)(760,9)(766,10)(770,12)(775,14)(782,32)(786,14)(793,12)(800,10)(808,8)(816,6)(824,5)(832,7)(840,5)(848,6)(856,5)(864,4)(872,5)(880,5)(888,4)(896,6)(904,4)(912,3)(920,5)(928,4)(936,3)(944,5)(952,6)(960,5)(968,4)(976,5)(984,7)(992,6)(1000,5)(1008,6)(1016,8)(1024,8)(1030,12)(1036,7)(1044,5)(1052,4)(1060,3)}{247}{1065}{tE}
\trk{687}{33.3}{tC}{.6pt}{(250,5)(258,7)(266,6)(274,5)(282,7)(290,4)(298,6)(306,8)(314,5)(322,6)(330,4)(338,7)(346,5)(354,4)(362,6)(370,7)(378,5)(386,8)(394,6)(402,5)(410,4)(418,6)(426,5)(434,4)(442,6)(450,5)(458,4)(466,3)(474,6)(482,5)(490,7)(498,5)(506,4)(514,3)(522,5)(530,4)(538,5)(546,4)(554,6)(562,5)(570,4)(578,6)(586,6)(594,10)(600,12)(605,25)(609,15)(613,57)(617,15)(620,12)(628,6)(636,8)(644,7)(652,6)(660,8)(668,12)(676,6)(684,8)(692,10)(698,48)(702,10)(710,7)(718,5)(726,6)(734,7)(742,6)(750,8)(758,6)(766,8)(772,10)(776,15)(780,40)(783,60)(785,105)(787,50)(790,30)(794,12)(802,8)(810,6)(818,7)(826,12)(830,42)(834,12)(842,7)(850,8)(858,10)(866,10)(874,10)(878,25)(880,42)(883,30)(885,40)(888,15)(896,4)(904,3)(912,4)(920,8)(928,6)(936,7)(944,10)(952,8)(960,6)(968,10)(975,15)(980,85)(984,15)(990,30)(994,10)(1002,8)(1005,20)(1010,7)(1018,6)(1026,8)(1030,15)(1033,57)(1037,10)(1044,6)(1052,5)(1060,5)}{247}{1065}{tC}
\trk{729}{33.3}{tA}{.65pt}{(250,6)(255,10)(260,6)(265,8)(272,4)(285,8)(290,12)(296,8)(312,6)(320,8)(326,5)(334,6)(340,8)(345,5)(370,10)(373,38)(377,8)(385,6)(390,15)(396,8)(408,15)(414,5)(420,15)(432,8)(437,22)(441,10)(447,6)(468,5)(490,18)(505,15)(530,15)(536,6)(544,12)(548,35)(552,12)(580,6)(585,15)(608,15)(613,55)(617,25)(620,15)(628,8)(635,25)(640,12)(650,22)(655,10)(665,15)(675,12)(692,8)(698,15)(704,10)(710,8)(715,15)(722,8)(730,12)(745,10)(750,40)(755,28)(762,10)(770,20)(775,60)(778,70)(780,95)(782,70)(785,40)(790,15)(800,10)(815,6)(824,10)(828,15)(835,30)(840,25)(843,82)(847,30)(850,25)(856,12)(862,15)(870,22)(875,12)(880,20)(885,12)(890,22)(895,8)(912,10)(935,8)(940,18)(946,8)(955,15)(960,8)(975,10)(980,48)(984,8)(1003,10)(1008,15)(1015,8)(1025,12)(1030,55)(1034,20)(1040,8)(1055,8)(1060,15)}{247}{1065}{black!25}
\trk{771}{33.3}{tG}{.85pt}{(264,15)(268,18)(274,8)(278,15)(284,6)(295,12)(300,8)(335,8)(340,20)(344,10)(348,25)(352,8)(368,15)(373,65)(376,25)(380,15)(385,8)(390,15)(395,8)(400,12)(410,6)(420,10)(430,8)(440,15)(448,10)(460,15)(468,8)(480,15)(488,10)(500,10)(520,6)(535,15)(540,25)(545,10)(550,20)(556,8)(565,22)(572,8)(585,20)(592,8)(602,25)(605,35)(608,20)(612,30)(616,15)(620,25)(628,12)(632,25)(635,45)(640,15)(648,25)(650,40)(655,25)(660,35)(665,20)(670,25)(675,30)(682,12)(690,18)(698,8)(710,12)(715,20)(722,8)(735,6)(745,25)(750,40)(755,20)(770,15)(778,35)(782,75)(786,35)(790,30)(796,15)(805,25)(812,10)(822,25)(828,90)(832,30)(835,30)(842,12)(850,10)(860,15)(870,8)(880,25)(883,38)(888,15)(895,8)(905,18)(912,8)(920,10)(930,20)(938,10)(950,20)(955,30)(960,15)(965,25)(972,15)(977,30)(980,55)(984,25)(990,35)(995,15)(1000,30)(1005,20)(1010,30)(1015,20)(1020,15)(1030,30)(1033,80)(1036,20)}{247}{1065}{black!25}
\gene{795}{262}{1032}{9}{}{(262,18)(264,18)(266,18)(268,18)(270,18)(272,18)(274,18)(333,18)(337,18)(368,18)(397,18)(433,18)(445,18)(458,18)(460,18)(506,18)(520,18)(532,18)(545,18)(617,18)}
\draw[-{Stealth[length=6pt]},line width=1.6pt] (738pt,-797pt) -- (738pt,-779pt) -- (718pt,-779pt);
\node[font=\fs{15}\itshape,inner sep=0pt] at (616pt,-805pt) {Pls1};
\end{tikzpicture}
\end{document}
